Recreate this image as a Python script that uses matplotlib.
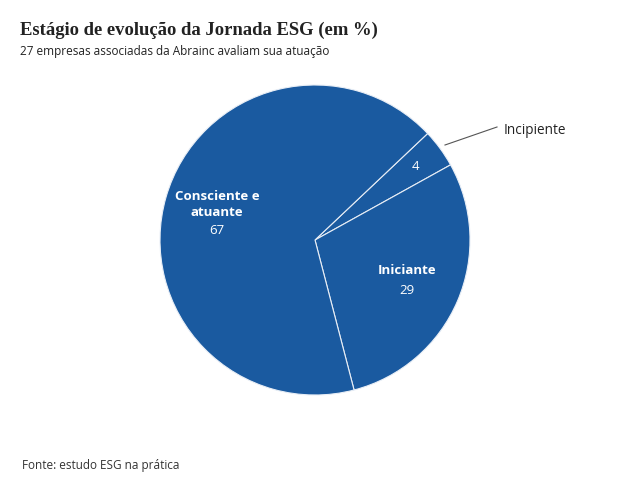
import matplotlib
matplotlib.use("Agg")
import matplotlib.pyplot as plt

# dados do gráfico
categorias = ["Incipiente", "Iniciante", "Consciente e atuante"]
valores = [4, 29, 67]

titulo = "Estágio de evolução da Jornada ESG (em %)"
subtitulo = "27 empresas associadas da Abrainc avaliam sua atuação"
fonte = "Fonte: estudo ESG na prática"

AZUL = "#1a5aa0"
W, H = 619, 495

fig = plt.figure(figsize=(W / 100, H / 100), dpi=100)
fig.patch.set_facecolor("white")
ax = fig.add_axes([0, 0, 1, 1])

# pizza em coordenadas de pixel (y para cima)
cx, cy, r = 315, H - 240, 155
ax.pie(valores, colors=[AZUL] * 3, startangle=43.4, counterclock=False,
       center=(cx, cy), radius=r, frame=True,
       wedgeprops=dict(edgecolor="#e8eef6", linewidth=0.8))
ax.set_xlim(0, W)
ax.set_ylim(0, H)
ax.set_aspect("equal")
ax.axis("off")

sans = "Open Sans"

# rótulos dentro das fatias
ax.text(217, H - 205, "Consciente e\natuante", color="white", fontsize=9.5,
        fontweight="bold", family=sans, ha="center", va="center", linespacing=1.3)
ax.text(217, H - 231, str(valores[2]), color="white", fontsize=9.5,
        family=sans, ha="center", va="center")
ax.text(407, H - 271, categorias[1], color="white", fontsize=9.5,
        fontweight="bold", family=sans, ha="center", va="center")
ax.text(407, H - 291, str(valores[1]), color="white", fontsize=9.5,
        family=sans, ha="center", va="center")
ax.text(415, H - 167, str(valores[0]), color="white", fontsize=9.5,
        family=sans, ha="center", va="center")

# rótulo externo com linha
ax.plot([445, 497], [H - 145, H - 127], color="#555555", lw=0.8)
ax.text(504, H - 130, categorias[0], color="#222222", fontsize=9.8,
        family=sans, ha="left", va="center")

# título, subtítulo e fonte
fig.text(20 / W, 1 - 30 / H, titulo, fontsize=13.4, fontweight="bold",
         family="Liberation Serif", color="#222222", ha="left", va="center")
fig.text(20 / W, 1 - 52 / H, subtitulo, fontsize=8.5, family=sans,
         color="#222222", ha="left", va="center")
fig.text(22 / W, 1 - 466 / H, fonte, fontsize=8.5, family=sans,
         color="#333333", ha="left", va="center")

fig.savefig("out.png", dpi=100, facecolor="white")
